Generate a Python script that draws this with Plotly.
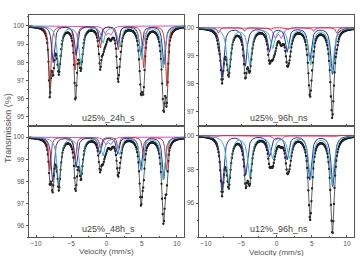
import numpy as np
import plotly.graph_objects as go

# ---------------- data ----------------
PANEL_NAMES = ["u25%_24h_s", "u25%_96h_ns", "u25%_48h_s", "u12%_96h_ns"]

# sextet / doublet line positions (mm/s), depths (% absorption)
# Panel 1: u25%_24h_s
P1_RED_POS = [-8.05, -4.44, -0.88, 1.66, 5.26, 8.55]
P1_RED_DEP = [3.4, 2.4, 1.2, 1.3, 2.3, 3.3]
P1_BLUE_POS = [-7.58, -4.32, -0.97, 1.58, 4.85, 8.14]
P1_BLUE_DEP = [2.0, 1.6, 0.8, 1.0, 1.6, 2.1]
P1_CYAN_POS = [-6.76, -3.64, -0.50, 1.86, 4.96, 8.04]
P1_CYAN_DEP = [2.4, 2.1, 0.9, 1.1, 1.8, 2.3]
P1_MAG_POS = [-0.10, 0.60]
P1_MAG_DEP = [0.45, 0.45]

# Panel 2: u25%_96h_ns
P2_RED_POS = [-8.25, -4.55, -0.85, 1.70, 5.25, 8.55]
P2_RED_DEP = [0.2, 0.13, 0.07, 0.07, 0.13, 0.2]
P2_BLUE_POS = [-7.73, -4.42, -1.02, 1.50, 4.72, 7.95]
P2_BLUE_DEP = [1.75, 1.35, 0.85, 0.85, 1.15, 1.65]
P2_CYAN_POS = [-6.78, -3.80, -0.55, 1.85, 4.82, 7.85]
P2_CYAN_DEP = [1.55, 1.3, 0.7, 0.7, 1.3, 1.6]
P2_MAG_POS = [-0.17, 0.68]
P2_MAG_DEP = [0.35, 0.35]

# Panel 3: u25%_48h_s
P3_RED_POS = [-8.05, -4.45, -0.88, 1.66, 5.26, 8.52]
P3_RED_DEP = [1.5, 1.0, 0.5, 0.5, 1.0, 1.5]
P3_BLUE_POS = [-7.65, -4.32, -0.97, 1.58, 4.85, 8.12]
P3_BLUE_DEP = [2.0, 1.35, 0.75, 0.75, 1.45, 1.9]
P3_CYAN_POS = [-6.76, -3.62, -0.50, 1.86, 4.95, 8.02]
P3_CYAN_DEP = [2.2, 1.7, 0.8, 0.75, 1.5, 1.9]
P3_MAG_POS = [-0.10, 0.60]
P3_MAG_DEP = [0.3, 0.3]

# Panel 4: u12%_96h_ns
P4_RED_POS = [-8.25, -4.55, -0.85, 1.70, 5.25, 8.55]
P4_RED_DEP = [0.05, 0.03, 0.02, 0.02, 0.03, 0.05]
P4_BLUE_POS = [-7.73, -4.37, -1.00, 1.50, 4.72, 7.98]
P4_BLUE_DEP = [3.2, 2.3, 1.2, 1.4, 2.6, 3.0]
P4_CYAN_POS = [-6.78, -3.80, -0.55, 1.85, 4.85, 7.88]
P4_CYAN_DEP = [2.8, 2.4, 1.3, 1.3, 2.5, 2.9]
P4_MAG_POS = [-0.20, 0.60]
P4_MAG_DEP = [0.25, 0.25]

HALF_WIDTHS = {"red": 0.18, "blue": 0.24, "cyan": 0.3, "mag": 0.3}
NS_HALF_WIDTHS = {"red": 0.18, "blue": 0.28, "cyan": 0.35, "mag": 0.3}

Y_RANGES = [[94.5, 100.6], [96.5, 100.45], [95.5, 100.5], [94.0, 100.56]]
Y_TICKS = [[95, 96, 97, 98, 99, 100], [97, 98, 99, 100], [96, 97, 98, 99, 100], [96, 98, 100]]
Y_MINOR = [0.5, 0.5, 0.5, 1.0]
X_TICKS = [-10, -5, 0, 5, 10]

COLORS = {"red": "#e8302a", "blue": "#2e2ea6", "cyan": "#3cb8c8", "mag": "#d050d0"}

PANELS = [
    dict(red=(P1_RED_POS, P1_RED_DEP), blue=(P1_BLUE_POS, P1_BLUE_DEP),
         cyan=(P1_CYAN_POS, P1_CYAN_DEP), mag=(P1_MAG_POS, P1_MAG_DEP), hw=HALF_WIDTHS),
    dict(red=(P2_RED_POS, P2_RED_DEP), blue=(P2_BLUE_POS, P2_BLUE_DEP),
         cyan=(P2_CYAN_POS, P2_CYAN_DEP), mag=(P2_MAG_POS, P2_MAG_DEP), hw=NS_HALF_WIDTHS),
    dict(red=(P3_RED_POS, P3_RED_DEP), blue=(P3_BLUE_POS, P3_BLUE_DEP),
         cyan=(P3_CYAN_POS, P3_CYAN_DEP), mag=(P3_MAG_POS, P3_MAG_DEP), hw=HALF_WIDTHS),
    dict(red=(P4_RED_POS, P4_RED_DEP), blue=(P4_BLUE_POS, P4_BLUE_DEP),
         cyan=(P4_CYAN_POS, P4_CYAN_DEP), mag=(P4_MAG_POS, P4_MAG_DEP), hw=NS_HALF_WIDTHS),
]


def absorption(v, pos, dep, hw):
    out = np.zeros_like(v)
    for p, d in zip(pos, dep):
        out += d / (1.0 + ((v - p) / hw) ** 2)
    return out


# ---------------- layout geometry ----------------
W, H = 360, 256
XD = [[29 / W, 184 / W], [199 / W, 354 / W]]
YD = [[1 - 126 / H, 1 - 15 / H], [1 - 237 / H, 1 - 126 / H]]

fig = go.Figure()
v_fine = np.linspace(-11, 11, 900)
v_chan = np.linspace(-11, 11, 256)

FONT = "Liberation Sans, Arial"
AX = dict(showline=True, linecolor="#555555", linewidth=1, mirror=True,
          ticklen=2.5, tickwidth=1, tickcolor="#555555",
          showgrid=False, zeroline=False,
          tickfont=dict(family=FONT, size=6.5, color="#555555"))

for i, pan in enumerate(PANELS):
    row, col = divmod(i, 2)
    n = i + 1
    xa = "x" if n == 1 else f"x{n}"
    ya = "y" if n == 1 else f"y{n}"
    hw = pan["hw"]

    total_fine = np.zeros_like(v_fine)
    total_chan = np.zeros_like(v_chan)
    for key in ["red", "blue", "cyan", "mag"]:
        pos, dep = pan[key]
        total_fine += absorption(v_fine, pos, dep, hw[key])
        total_chan += absorption(v_chan, pos, dep, hw[key])

    # data points
    fig.add_trace(go.Scatter(
        x=v_chan, y=100 - total_chan, mode="markers", xaxis=xa, yaxis=ya,
        marker=dict(color="#111111", size=2.3),
        error_y=dict(type="constant", value=0.06 * (Y_RANGES[i][1] - Y_RANGES[i][0]) / 6,
                     thickness=0.6, width=0, color="#222222"),
        showlegend=False, hoverinfo="skip"))

    # subspectra
    for key in ["mag", "red", "blue", "cyan"]:
        pos, dep = pan[key]
        fig.add_trace(go.Scatter(
            x=v_fine, y=100 - absorption(v_fine, pos, dep, hw[key]), mode="lines",
            xaxis=xa, yaxis=ya, line=dict(color=COLORS[key], width=1),
            showlegend=False, hoverinfo="skip"))

    # total fit
    fig.add_trace(go.Scatter(
        x=v_fine, y=100 - total_fine, mode="lines", xaxis=xa, yaxis=ya,
        line=dict(color="#333333", width=0.8), showlegend=False, hoverinfo="skip"))

    xkey = "xaxis" if n == 1 else f"xaxis{n}"
    ykey = "yaxis" if n == 1 else f"yaxis{n}"
    fig.update_layout({
        xkey: dict(AX, domain=XD[col], range=[-11, 11], anchor=ya, tickvals=X_TICKS,
                   ticks="inside", showticklabels=(row == 1),
                   minor=dict(dtick=2.5, ticks="inside", ticklen=1.5, tickcolor="#555555")),
        ykey: dict(AX, domain=YD[row], range=Y_RANGES[i], anchor=xa, tickvals=Y_TICKS[i],
                   ticks="outside",
                   minor=dict(dtick=Y_MINOR[i], ticks="outside", ticklen=1.5, tickcolor="#555555")),
    })

    # panel label
    cx = (XD[col][0] + XD[col][1]) / 2
    fig.add_annotation(text=PANEL_NAMES[i], x=cx + 0.006, y=YD[row][0] + 0.004,
                       xref="paper", yref="paper", xanchor="center", yanchor="bottom",
                       showarrow=False,
                       font=dict(family=FONT, size=9, color="#444444"))

# axis titles
fig.add_annotation(text="Transmission (%)", x=8 / W, y=0.5, xref="paper", yref="paper",
                   textangle=-90, showarrow=False, xanchor="center", yanchor="middle",
                   font=dict(family=FONT, size=9, color="#555555"))
fig.add_annotation(text="Velocity (mm/s)", x=(XD[0][0] + XD[0][1]) / 2, y=0,
                   xref="paper", yref="paper", showarrow=False, xanchor="center", yanchor="bottom",
                   yshift=-2, font=dict(family=FONT, size=8, color="#555555"))
fig.add_annotation(text="Velocity (mm/s)", x=(XD[1][0] + XD[1][1]) / 2, y=0,
                   xref="paper", yref="paper", showarrow=False, xanchor="center", yanchor="bottom",
                   yshift=-3, font=dict(family=FONT, size=8, color="#555555"))

fig.update_layout(width=W, height=H, margin=dict(l=0, r=0, t=0, b=0),
                  paper_bgcolor="white", plot_bgcolor="white", showlegend=False)

fig.write_html("out.html", config={"displayModeBar": False})
